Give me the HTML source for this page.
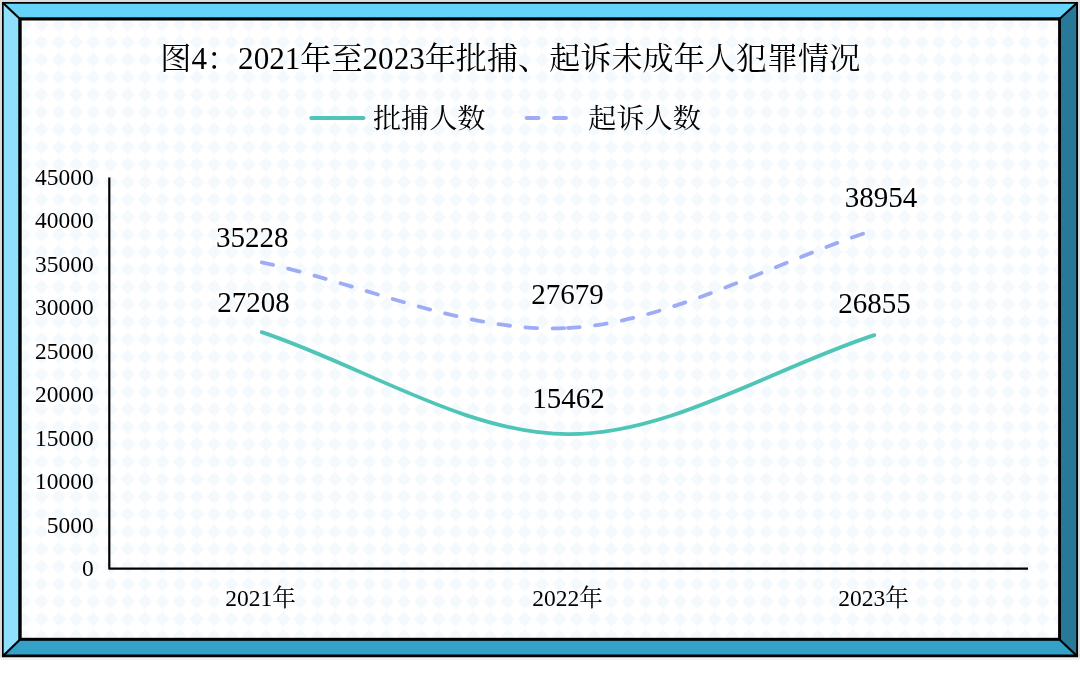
<!DOCTYPE html>
<html lang="zh-CN">
<head>
<meta charset="utf-8">
<title>图4：2021年至2023年批捕、起诉未成年人犯罪情况</title>
<style>
html,body{margin:0;padding:0;background:#ffffff;}
body{width:1080px;height:675px;overflow:hidden;position:relative;}
svg{position:absolute;left:0;top:0;display:block;}
text{font-family:"Liberation Serif","Noto Serif CJK SC",serif;fill:#000;}
.ax{font-size:24px;}
.cat{font-size:23.5px;}
.dl{font-size:29px;}
.ttl{font-size:30.5px;}
.lg{font-size:27px;}
</style>
</head>
<body>
<svg width="1080" height="675" viewBox="0 0 1080 675">
<defs>
<pattern id="dots" patternUnits="userSpaceOnUse" x="32.87" y="33.46" width="17.26" height="17.48">
<rect width="17.26" height="17.48" fill="#ffffff"/>
<g fill="#f3f9fc"><circle cx="8.63" cy="8.74" r="5.5"/><path d="M8.63 0.6 L9.9 4 L13.3 7.5 L16.7 8.74 L13.3 10 L9.9 13.5 L8.63 16.9 L7.4 13.5 L4 10 L0.6 8.74 L4 7.5 L7.4 4 Z"/></g>
</pattern>
</defs>
<!-- page margins -->
<rect x="0" y="0" width="1080" height="658" fill="#dcdcdc"/>
<rect x="1" y="657" width="1079" height="1.6" fill="#e4e4e4"/>
<rect x="1" y="658.6" width="1079" height="1.4" fill="#f3f3f3"/>
<!-- frame -->
<rect x="2" y="2" width="1076" height="655.2" fill="#000"/>
<polygon points="3.7,3.7 1076.2,3.7 1060.8,17.6 18.5,17.6" fill="#66d3fa"/>
<polygon points="3.7,3.7 18.5,17.6 18.5,640.6 3.7,654.5" fill="#8ee0fc"/>
<polygon points="3.7,654.5 18.5,640.6 1060.8,640.6 1076.2,654.5" fill="#34a1c9"/>
<polygon points="1076.2,3.7 1076.2,654.5 1060.8,640.6 1060.8,17.6" fill="#287897"/>
<rect x="18.5" y="17.6" width="1042.3" height="623" fill="#000"/>
<rect x="21.7" y="20.5" width="1036.4" height="617.3" fill="url(#dots)"/>
<g stroke="#000" stroke-width="2.1" fill="none">
<line x1="2.5" y1="2.5" x2="19.5" y2="18.5"/>
<line x1="1077.5" y1="2.5" x2="1060" y2="18.5"/>
<line x1="2.5" y1="656.5" x2="19.5" y2="640"/>
<line x1="1077.5" y1="656.5" x2="1060" y2="640"/>
</g>
<!-- title -->
<text x="510.3" y="69.2" text-anchor="middle" class="ttl" textLength="700" lengthAdjust="spacingAndGlyphs">图4：2021年至2023年批捕、起诉未成年人犯罪情况</text>
<!-- legend -->
<line x1="311.3" y1="118" x2="363.5" y2="118" stroke="#4ec5b7" stroke-width="4" stroke-linecap="round"/>
<text x="373" y="127.5" class="lg" textLength="112.5" lengthAdjust="spacingAndGlyphs">批捕人数</text>
<line x1="526.7" y1="118" x2="538.5" y2="118" stroke="#9eacf6" stroke-width="4.1" stroke-linecap="round"/>
<line x1="554.1" y1="118" x2="565.9" y2="118" stroke="#9eacf6" stroke-width="4.1" stroke-linecap="round"/>
<text x="588.3" y="127.5" class="lg" textLength="112.5" lengthAdjust="spacingAndGlyphs">起诉人数</text>
<!-- axes -->
<polyline points="109.3,177.5 109.3,568.7 1028,568.7" fill="none" stroke="#000" stroke-width="2.2" stroke-linejoin="round"/>
<text x="81.9" y="576.1" class="ax" textLength="11.7" lengthAdjust="spacingAndGlyphs">0</text>
<text x="46.8" y="532.6" class="ax" textLength="46.8" lengthAdjust="spacingAndGlyphs">5000</text>
<text x="35.1" y="489.2" class="ax" textLength="58.5" lengthAdjust="spacingAndGlyphs">10000</text>
<text x="35.1" y="445.7" class="ax" textLength="58.5" lengthAdjust="spacingAndGlyphs">15000</text>
<text x="35.1" y="402.2" class="ax" textLength="58.5" lengthAdjust="spacingAndGlyphs">20000</text>
<text x="35.1" y="358.8" class="ax" textLength="58.5" lengthAdjust="spacingAndGlyphs">25000</text>
<text x="35.1" y="315.3" class="ax" textLength="58.5" lengthAdjust="spacingAndGlyphs">30000</text>
<text x="35.1" y="271.8" class="ax" textLength="58.5" lengthAdjust="spacingAndGlyphs">35000</text>
<text x="35.1" y="228.4" class="ax" textLength="58.5" lengthAdjust="spacingAndGlyphs">40000</text>
<text x="35.1" y="184.9" class="ax" textLength="58.5" lengthAdjust="spacingAndGlyphs">45000</text>

<text x="260.5" y="606" text-anchor="middle" class="cat">2021年</text>
<text x="567.4" y="606" text-anchor="middle" class="cat">2022年</text>
<text x="873.5" y="606" text-anchor="middle" class="cat">2023年</text>
<!-- series -->
<path d="M261.7 262.4 C363.8 284.2 465.9 333.4 568.0 328.0" fill="none" stroke="#9eacf6" stroke-width="3.8" stroke-linecap="round" stroke-dasharray="11.7 15.5"/>
<path d="M568.0 328.0 C670.1 322.6 772.2 262.6 874.3 230.0" fill="none" stroke="#9eacf6" stroke-width="3.8" stroke-linecap="round" stroke-dasharray="11.7 15.5"/>
<path d="M261.7 332.1 C363.8 366.1 465.9 433.7 568.0 434.2 C670.1 434.7 772.2 368.2 874.3 335.1" fill="none" stroke="#4ec5b7" stroke-width="3.8" stroke-linecap="round" stroke-linejoin="round"/>
<!-- data labels -->
<text x="252.2" y="247.4" text-anchor="middle" class="dl">35228</text>
<text x="253.5" y="312.4" text-anchor="middle" class="dl">27208</text>
<text x="567.5" y="303.8" text-anchor="middle" class="dl">27679</text>
<text x="568.5" y="407.7" text-anchor="middle" class="dl">15462</text>
<text x="880.9" y="207.2" text-anchor="middle" class="dl">38954</text>
<text x="874.4" y="313.3" text-anchor="middle" class="dl">26855</text>
</svg>
</body>
</html>
